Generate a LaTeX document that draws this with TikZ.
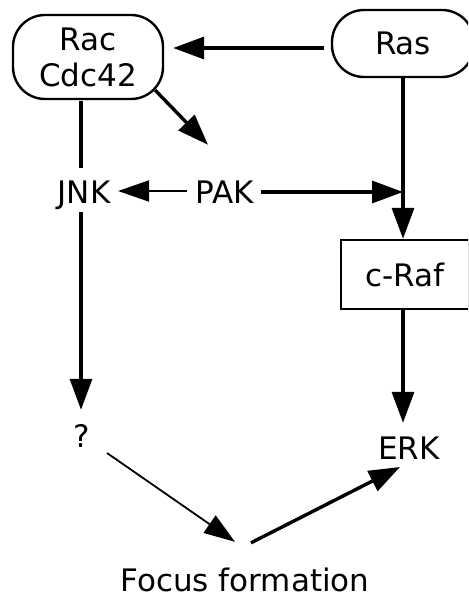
\documentclass[tikz,border=0pt]{standalone}
\usepackage{fontspec}
\setmainfont{DejaVu Sans}
\usetikzlibrary{arrows.meta,calc}
\begin{document}
\begin{tikzpicture}[x=1pt,y=-1pt,
  every node/.style={font=\fontsize{31}{36}\selectfont},
  lbl/.style={inner sep=0pt,text height=22pt,text depth=0pt},
  pill/.style={draw,line width=2.4pt,rounded corners=32pt,align=center,inner sep=0pt},
  boxnode/.style={draw,line width=2.4pt,inner sep=0pt},
  thickarr/.style={line width=3.4pt,-{Triangle[length=31pt,width=22pt]}},
  thinarr/.style={line width=1.8pt,-{Triangle[length=31pt,width=21pt]}},
  plain/.style={line width=3.4pt}]
\useasboundingbox (0,0) rectangle (468,599);
\clip (0,0) rectangle (468,599);
% nodes
\node[pill,minimum width=150pt,minimum height=84pt] (rac) at (88,57) {Rac\\Cdc42};
\node[pill,minimum width=142pt,minimum height=67pt] (ras) at (403,43.5) {Ras};
\node[boxnode,minimum width=128pt,minimum height=69pt] (craf) at (405,274.5) {c-Raf};
\node[lbl] (jnk) at (84,192) {JNK};
\node[lbl] (pak) at (225,192) {PAK};
\node[lbl] (q) at (82,436) {?};
\node[lbl] (erk) at (409,448) {ERK};
\node[lbl] (focus) at (245,580) {Focus formation};
% connectors
\draw[thickarr] ($(ras.west)+(-7,4.5)$) -- ($(rac.east)+(9,-9)$);
\draw[thickarr] ($(rac.south east)+(-9,-10)$) -- ($(pak.north)+(-17,-36)$);
\draw[plain] ($(rac.south)+(-7,1)$) -- ($(jnk.north)+(-3,-13)$);
\draw[thickarr] ($(jnk.south)+(-3,9)$) -- ($(q.north)+(-1,-15)$);
\draw[thinarr] ($(pak.center)+(-38,-1)$) -- ($(jnk.center)+(34,-1)$);
\draw[thickarr] ($(pak.center)+(36,0)$) -- (pak.center -| ras.south);
\draw[thickarr] (ras.south) -- (ras.south |- craf.north);
\draw[thickarr] (ras.south |- craf.south) -- ($(ras.south |- erk.north)+(0,-14)$);
\draw[thinarr] ($(q.center)+(25,17)$) -- ($(focus.north)+(-10,-27)$);
\draw[thickarr] ($(focus.north)+(6,-26)$) -- ($(erk.center)+(-9,19)$);
\end{tikzpicture}
\end{document}
